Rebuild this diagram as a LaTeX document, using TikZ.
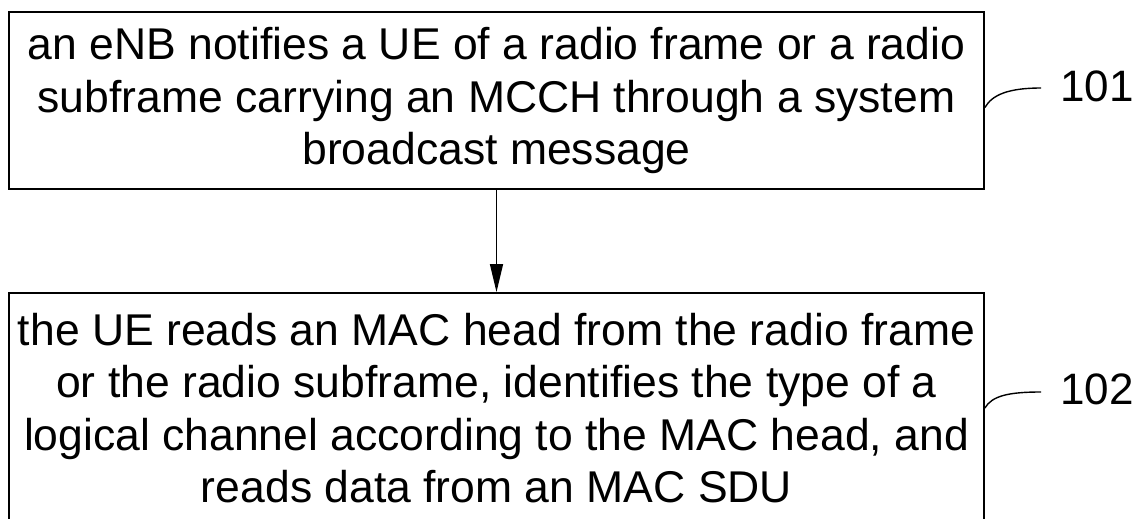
\documentclass[tikz,border=0pt]{standalone}
\usepackage{fontspec}
\setmainfont{Liberation Sans}
\usetikzlibrary{arrows.meta}

\tikzset{
  stepbox/.style={draw, line width=1.8pt, minimum width=975pt, inner sep=0pt,
    align=center, font=\fontsize{44.5}{52.5}\selectfont},
  steplabel/.style={inner sep=0pt, font=\fontsize{44}{44}\selectfont}
}

\begin{document}
\begin{tikzpicture}[x=1pt,y=-1pt,line width=1.4pt]
    \useasboundingbox (0,0) rectangle (1141,519);
    \node[stepbox, minimum height=177pt] (s101) at (496.5,100.5)
      {an eNB notifies a UE of a radio frame or a radio\\
       subframe carrying an MCCH through a system\\
       broadcast message};
    \node[stepbox, minimum height=230pt] (s102) at (496.5,408)
      {the UE reads an MAC head from the radio frame\\
       or the radio subframe, identifies the type of a\\
       logical channel according to the MAC head, and\\
       reads data from an MAC SDU};
    \draw[-{Triangle[length=28pt,width=13pt]}] (s101) -- (s102);

    \node[steplabel] (n101) at (1097,86) {101};
    \node[steplabel] (n102) at (1097,389) {102};
    \coordinate (e101) at (1041,88);
    \coordinate (e102) at (1041,392);
    \draw ([yshift=-7pt]s101.east) .. controls (992,95) and (1008,88) .. (e101);
    \draw (s102.east) .. controls (992,396) and (1008,392) .. (e102);
\end{tikzpicture}
\end{document}
